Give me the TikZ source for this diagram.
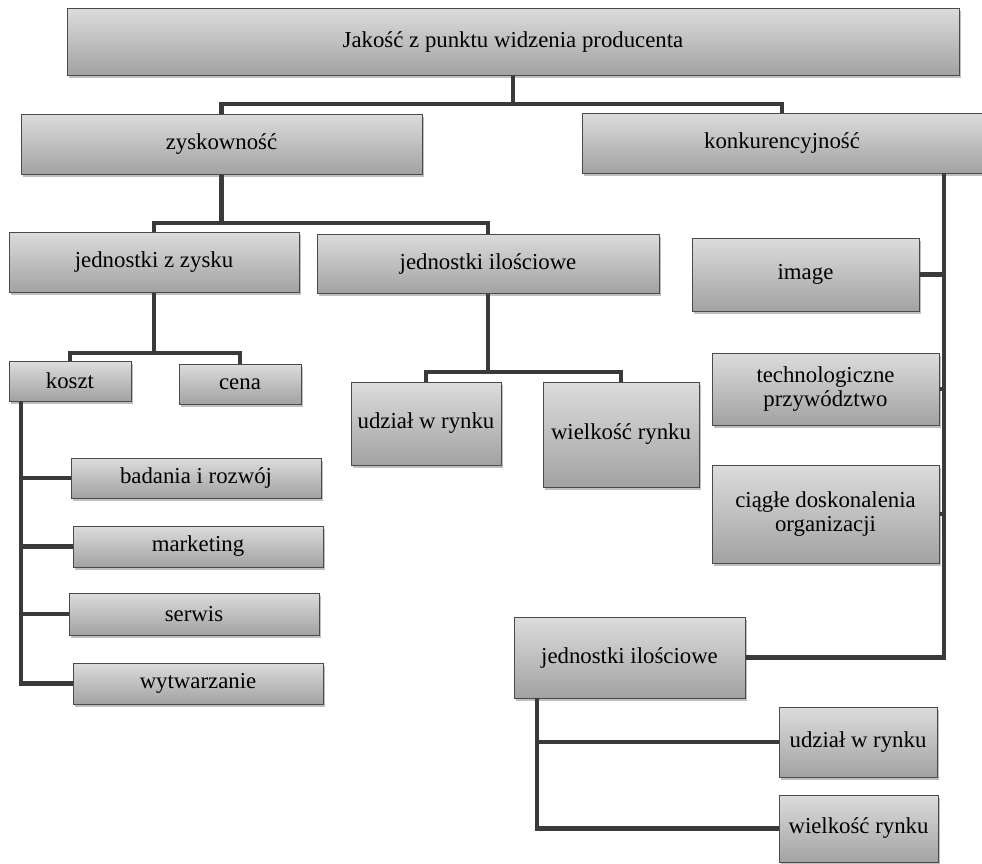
\documentclass[tikz,border=0pt]{standalone}
\usepackage{fontspec}
\setmainfont{Liberation Serif}
\usetikzlibrary{shadows,calc}
\definecolor{boxtop}{HTML}{DCDCDC}
\definecolor{boxbot}{HTML}{A2A2A2}
\definecolor{boxborder}{HTML}{4A4A4A}
\definecolor{linecol}{HTML}{3A3A3A}
\tikzset{
  box/.style={draw=boxborder, line width=1pt, top color=boxtop, bottom color=boxbot,
    inner sep=0pt, align=center, font=\fontsize{22.8}{23.5}\selectfont,
    drop shadow={shadow xshift=2pt, shadow yshift=-3pt, opacity=0.25, fill=black}},
  conn/.style={draw=linecol, line width=4.5pt}
}
\begin{document}
\begin{tikzpicture}[x=1pt,y=-1pt]
\useasboundingbox (0,0) rectangle (982,863);
% level 0
\node[box, minimum width=892, minimum height=67] (top) at (513,41.5) {Jakość z punktu widzenia producenta};
% level 1
\node[box, minimum width=401, minimum height=60] (zysk) at (221.5,144) {zyskowność};
\node[box, minimum width=400, minimum height=60] (konk) at (782,143) {konkurencyjność};
% left subtree
\node[box, minimum width=290, minimum height=60] (jzz) at (154,262) {jednostki z zysku};
\node[box, minimum width=342, minimum height=59] (jil) at (488,263.5) {jednostki ilościowe};
\node[box, minimum width=122, minimum height=40] (koszt) at (70,381) {koszt};
\node[box, minimum width=122, minimum height=40] (cena) at (240,384) {cena};
\node[box, minimum width=150, minimum height=83] (udz1) at (426,423.5) {udział w rynku};
\node[box, minimum width=156, minimum height=105] (wiel1) at (621,434.5) {wielkość rynku};
\node[box, minimum width=250, minimum height=40] (bad) at (196,478) {badania i rozwój};
\node[box, minimum width=250, minimum height=41] (mark) at (198,546.5) {marketing};
\node[box, minimum width=250, minimum height=42] (serw) at (194,614) {serwis};
\node[box, minimum width=250, minimum height=41] (wytw) at (198,683.5) {wytwarzanie};
% right subtree
\node[box, minimum width=227, minimum height=73] (image) at (805.5,274.5) {image};
\node[box, minimum width=227, minimum height=72] (tech) at (825.5,389) {technologiczne\\przywództwo};
\node[box, minimum width=227, minimum height=98] (ciag) at (825.5,514) {ciągłe doskonalenia\\organizacji};
\node[box, minimum width=231, minimum height=81] (jil2) at (629.5,657.5) {jednostki ilościowe};
\node[box, minimum width=158, minimum height=70] (udz2) at (858,742) {udział w rynku};
\node[box, minimum width=159, minimum height=67] (wiel2) at (858.5,828.5) {wielkość rynku};
% bus coordinates
\coordinate (b1) at (513,104);
\coordinate (b2) at (221.5,223);
\coordinate (b3) at (154,353);
\coordinate (b4) at (488,372);
\coordinate (kbus) at (21,401);
\coordinate (rbus) at (944,173);
\coordinate (jbus) at (537,698);
% connectors
\draw[conn] (top.south) -- (b1);
\draw[conn] (zysk.north) |- (b1) -| (konk.north);
\draw[conn] (zysk.south) -- (b2);
\draw[conn] (jzz.north) |- (b2) -| (jil.north);
\draw[conn] (jzz.south) -- (b3);
\draw[conn] (koszt.north) |- (b3) -| (cena.north);
\draw[conn] (jil.south) -- (b4);
\draw[conn] (udz1.north) |- (b4) -| (wiel1.north);
\draw[conn] (kbus) |- (wytw.west);
\draw[conn] (kbus |- bad.west) -- (bad.west);
\draw[conn] (kbus |- mark.west) -- (mark.west);
\draw[conn] (kbus |- serw.west) -- (serw.west);
\draw[conn] (rbus) |- (jil2.east);
\draw[conn] (image.east) -- (image.east -| rbus);
\draw[conn] (tech.east) -- (tech.east -| rbus);
\draw[conn] (ciag.east) -- (ciag.east -| rbus);
\draw[conn] (jbus) |- (wiel2.west);
\draw[conn] (jbus |- udz2.west) -- (udz2.west);
\end{tikzpicture}
\end{document}
